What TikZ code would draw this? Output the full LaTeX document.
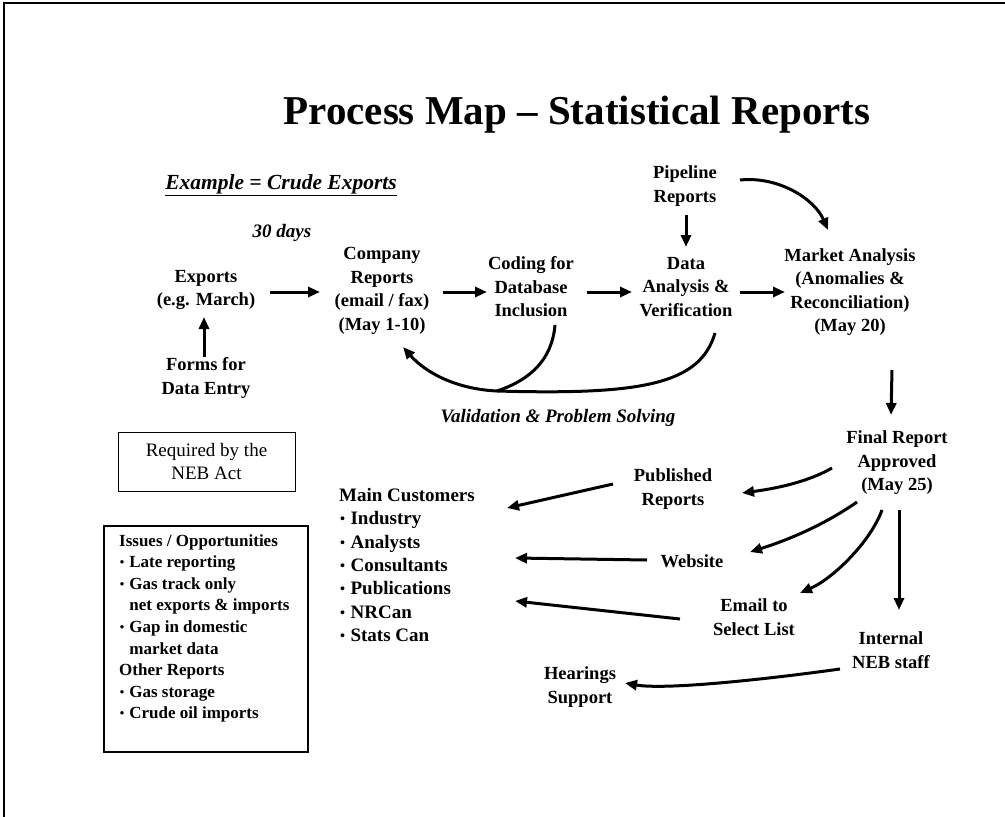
\documentclass[tikz,border=0pt]{standalone}
\usepackage{fontspec}
\setmainfont{Liberation Serif}
\usetikzlibrary{arrows.meta,calc}
% small centred list bullet
\newcommand\lbul{\makebox[0.35em][c]{\raisebox{0.05em}{\scalebox{0.75}{•}}}}

\begin{document}
\begin{tikzpicture}[x=1pt,y=-1pt,
  lbl/.style={font=\fontsize{18.5}{23.5}\selectfont\bfseries, align=center, inner sep=2pt},
  ital/.style={font=\fontsize{19}{23}\selectfont\bfseries\itshape, inner sep=2pt},
  arr/.style={line width=3pt, -{Triangle[length=12pt,width=10pt]}},
  flow/.style={line width=3pt},
  frame/.style={line width=2.5pt}]

\useasboundingbox (0,0) rectangle (1005,817);
\draw[frame] (4,817) -- (4,3) -- (1005,3);

% title and headings
\node[font=\fontsize{41}{48}\selectfont\bfseries] (title) at (577,115) {Process Map – Statistical Reports};
\node[ital, font=\fontsize{21.5}{26}\selectfont\bfseries\itshape] (example) at (281,185) {\underline{Example = Crude Exports}};
\node[ital] (days) at (282,233) {30 days};

% main process chain
\node[lbl] (exports) at (206,290) {Exports\\(e.g. March)};
\node[lbl] (forms) at (206,378) {Forms for\\Data Entry};
\node[lbl] (company) at (382,291) {Company\\Reports\\(email / fax)\\(May 1-10)};
\node[lbl] (coding) at (531,287) {Coding for\\Database\\Inclusion};
\node[lbl] (data) at (686,287) {Data\\Analysis \&\\Verification};
\node[lbl] (pipeline) at (685,186) {Pipeline\\Reports};
\node[lbl] (market) at (850,292) {Market Analysis\\(Anomalies \&\\Reconciliation)\\(May 20)};
\node[lbl] (final) at (897,463) {Final Report\\Approved\\(May 25)};

% distribution
\node[lbl] (published) at (673,489) {Published\\Reports};
\node[lbl] (website) at (692,561) {Website};
\node[lbl] (email) at (754,617) {Email to\\Select List};
\node[lbl] (internal) at (891,650) {Internal\\NEB staff};
\node[lbl] (hearings) at (580,687) {Hearings\\Support};
\node[lbl, font=\fontsize{19}{23.4}\selectfont\bfseries, align=left, anchor=west, inner sep=0pt] (customers) at (339,565)
  {Main Customers\\\lbul\ Industry\\\lbul\ Analysts\\\lbul\ Consultants\\\lbul\ Publications\\\lbul\ NRCan\\\lbul\ Stats Can};

\node[ital] (validation) at (558,418) {Validation \& Problem Solving};

% side boxes
\node[draw, line width=0.8pt, minimum width=177pt, minimum height=59pt, align=center,
      font=\fontsize{19}{23}\selectfont] (required) at (206.5,461.5) {Required by the\\NEB Act};
\node[draw, line width=2.2pt, minimum width=204pt, minimum height=226pt, anchor=north west] (issues) at (103,525) {};
\node[anchor=north west, align=left, inner sep=0pt, font=\fontsize{17}{21.6}\selectfont\bfseries] (issuestext)
  at ($(issues.north west)+(16,9)$)
  {Issues / Opportunities\\\lbul\ Late reporting\\\lbul\ Gas track only\\\phantom{\lbul\ }net exports \& imports\\\lbul\ Gap in domestic\\\phantom{\lbul\ }market data\\Other Reports\\\lbul\ Gas storage\\\lbul\ Crude oil imports};

% straight connectors
\draw[arr] ($(forms)+(-2,-21)$) -- ($(exports)+(-2,27)$);
\draw[arr] ($(exports)+(64,2)$) -- ($(company)+(-62,1)$);
\draw[arr] ($(company)+(61,1)$) -- ($(coding)+(-44,5)$);
\draw[arr] ($(coding)+(56,5)$) -- ($(data)+(-54,5)$);
\draw[arr] ($(data)+(54,5)$) -- ($(market)+(-65,0)$);
\draw[arr] ($(pipeline)+(1,29)$) -- ($(data)+(0,-40)$);
\draw[arr] ($(market)+(42,78)$) -- ($(final)+(-6,-48)$);
\draw[arr] ($(final)+(2,47)$) -- ($(internal)+(8,-40)$);
\draw[arr] ($(published)+(-60,-5)$) -- ($(customers.west)+(168,-57)$);
\draw[arr] ($(website)+(-45,-1)$) -- ($(customers.west)+(176,-7)$);
\draw[arr] ($(email)+(-74,2)$) -- ($(customers.west)+(176,36)$);

% curved connectors
\draw[arr] ($(pipeline)+(55,-6)$) .. controls (780,176) and (815,200) .. ($(market)+(-22,-62)$);
\draw[arr] ($(final)+(-65,5)$) .. controls (806,483) and (772,489) .. ($(published)+(69,4)$);
\draw[arr] ($(final)+(-40,39)$) .. controls (824,525) and (788,540) .. ($(website)+(58,-9)$);
\draw[arr] ($(final)+(-15,47)$) .. controls (870,543) and (832,579) .. ($(email)+(46,-24)$);
\draw[arr] ($(internal)+(-51,19)$) .. controls (761,680) and (664,690) .. ($(hearings)+(45,-4)$);

% validation feedback loop
\coordinate (merge) at (497,391);
\draw[arr] ($(data)+(29,46)$) .. controls (700,385) and (640,395) .. (merge)
  .. controls (455,389) and (425,372) .. ($(company)+(21,56)$);
\draw[flow] ($(coding)+(24,38)$) .. controls (552,360) and (530,380) .. (merge);

\end{tikzpicture}
\end{document}
